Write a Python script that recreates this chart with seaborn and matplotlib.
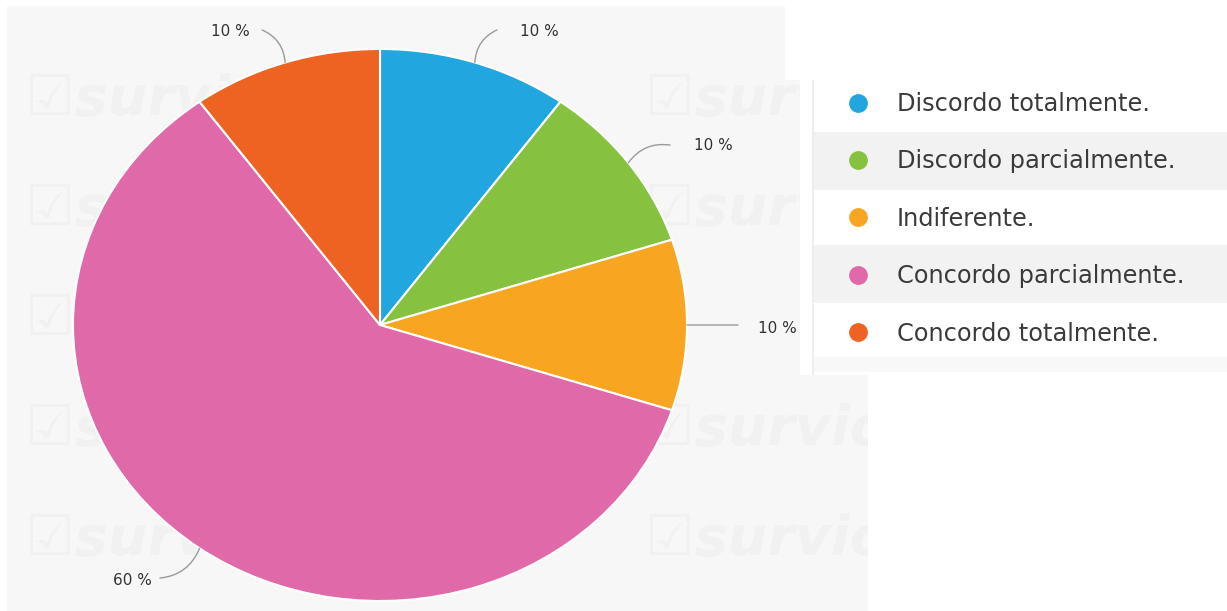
import matplotlib
matplotlib.use("Agg")
import matplotlib.pyplot as plt
from matplotlib.patches import Rectangle
from matplotlib.lines import Line2D
import numpy as np
import seaborn as sns

# Survey answers and their shares (%)
categories = [
    "Discordo totalmente.",
    "Discordo parcialmente.",
    "Indiferente.",
    "Concordo parcialmente.",
    "Concordo totalmente.",
]
shares = [10, 10, 10, 60, 10]
share_labels = ["10 %", "10 %", "10 %", "60 %", "10 %"]
slice_colors = ["#21a6df", "#86c23f", "#f8a521", "#e069a9", "#ee6222"]

sns.set_theme(style="white")
plt.rcParams["font.family"] = ["DejaVu Sans"]

W, H = 1227, 611
fig = plt.figure(figsize=(W / 100, H / 100), dpi=100, facecolor="white")


def px_rect(x0, y0, x1, y1, color, z):
    """Rectangle given in pixel coordinates measured from the top-left corner."""
    r = Rectangle((x0 / W, 1 - y1 / H), (x1 - x0) / W, (y1 - y0) / H,
                  transform=fig.transFigure, facecolor=color, edgecolor="none",
                  zorder=z)
    fig.patches.append(r)
    return r


# chart background and faint watermark
bg = px_rect(7, 6, 868, 611, "#f7f7f7", -5)
for row_base in [115, 225, 335, 445, 555]:
    for col_x in [25, 645]:
        if row_base == 335 and col_x == 645:
            continue  # keep the side label clear
        t = fig.text(col_x / W, 1 - row_base / H, "\u2611survio", fontsize=40,
                     fontweight="bold", style="italic", color="#f1f1f1",
                     ha="left", va="baseline", zorder=-4)
        t.set_clip_path(bg)

# white legend panel with alternating stripes
px_rect(785, 0, W, 80, "white", -3)
px_rect(800, 80, W, 375, "white", -3)
px_rect(813, 132, W, 190, "#f2f2f2", -2)
px_rect(813, 245, W, 303, "#f2f2f2", -2)
px_rect(813, 357, W, 372, "#f8f8f8", -2)
px_rect(812, 80, 813.5, 375, "#eeeeee", -2)

# pie axes: center at (380, 325) px, radii 307 x 276 px
cx, cy, rx, ry = 380, 325, 307, 276
xlim = (-1.2, 1.45)
ylim = (-1.05, 1.15)
left = cx + xlim[0] * rx
width = (xlim[1] - xlim[0]) * rx
bottom = (H - cy) + ylim[0] * ry
height = (ylim[1] - ylim[0]) * ry
ax = fig.add_axes([left / W, bottom / H, width / W, height / H])

palette = sns.color_palette(slice_colors)
wedges, _ = ax.pie(shares, colors=palette, startangle=90, counterclock=False,
                   wedgeprops=dict(edgecolor="white", linewidth=1.5))
ax.set_aspect("auto")
ax.set_xlim(*xlim)
ax.set_ylim(*ylim)
ax.axis("off")
ax.patch.set_alpha(0)

# percentage labels with curved leader lines
label_pos = [(0.52, 1.062), (1.085, 0.652), (1.296, -0.011), (-0.805, -0.924), (-0.489, 1.062)]
line_end = [(0.381, 1.069), (0.945, 0.652), (1.166, 0.0), (-0.717, -0.917), (-0.384, 1.069)]
rads = [0.3, 0.3, 0.0, 0.3, -0.3]
for w, lab, pos, end, rad in zip(wedges, share_labels, label_pos, line_end, rads):
    ang = np.deg2rad((w.theta1 + w.theta2) / 2)
    start = (np.cos(ang), np.sin(ang))
    ax.annotate("", xy=start, xytext=end,
                arrowprops=dict(arrowstyle="-", color="#9a9a9a", lw=1.0,
                                connectionstyle=f"arc3,rad={rad}",
                                shrinkA=0, shrinkB=0),
                annotation_clip=False)
    ax.text(pos[0], pos[1], lab, fontsize=11, color="#333333",
            ha="center", va="center", clip_on=False)

# legend
handles = [Line2D([], [], linestyle="none", marker="o", markersize=12.5,
                  markerfacecolor=c, markeredgecolor=c) for c in palette]
fig.legend(handles, categories, loc="upper left",
           bbox_to_anchor=(844 / W, 1 - 92 / H), frameon=False,
           fontsize=17.3, labelcolor="#3a3a3a", labelspacing=1.39,
           handlelength=1.2, handletextpad=1.0, borderpad=0, borderaxespad=0)

fig.savefig("out.png", dpi=100, facecolor="white")
